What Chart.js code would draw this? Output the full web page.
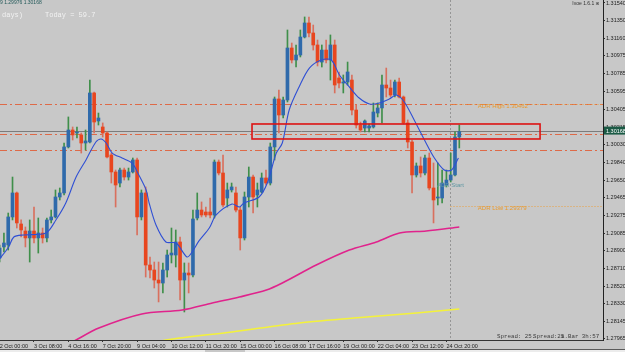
<!DOCTYPE html>
<html>
<head>
<meta charset="utf-8">
<script src="https://cdn.jsdelivr.net/npm/chart.js@4.4.0/dist/chart.umd.min.js"></script>
<style>
  html, body { margin: 0; padding: 0; background: #c8c8c8; }
  #wrap { width: 625px; height: 352px; }
</style>
</head>
<body>
<div id="wrap"><canvas id="c" width="625" height="352"></canvas></div>
<script>
// H4 candles (index 0 = 2 Oct 00:00)
const opens = [
  1.28819, 1.28937, 1.28958, 1.29257, 1.29513, 1.29182, 1.29107, 1.29033, 1.29107, 1.29033,
  1.29086, 1.29033, 1.29225, 1.29257, 1.29470, 1.29513, 1.30004, 1.30185, 1.30153, 1.30132,
  1.30046, 1.30057, 1.30580, 1.30281, 1.30217, 1.30153, 1.29918, 1.29737, 1.29619, 1.29758,
  1.29683, 1.29737, 1.29865, 1.29257, 1.29513, 1.28744, 1.28691, 1.28584, 1.28552, 1.28691,
  1.28851, 1.28851, 1.28990, 1.28584, 1.28659, 1.28638, 1.29246, 1.29331, 1.29310, 1.29310,
  1.29278, 1.29843, 1.29726, 1.29459, 1.29545, 1.29513, 1.29331, 1.29033, 1.29470, 1.29683,
  1.29491, 1.29523, 1.29673, 1.29619, 1.30004, 1.30516, 1.30345, 1.30505, 1.31060, 1.30932,
  1.30985, 1.31177, 1.31327, 1.31220, 1.31092, 1.30910, 1.31038, 1.30932, 1.31092, 1.30740,
  1.30686, 1.30697, 1.30718, 1.30398, 1.30238, 1.30206, 1.30206, 1.30217, 1.30366, 1.30420,
  1.30665, 1.30633, 1.30558, 1.30697, 1.30537, 1.30260, 1.30057, 1.29705, 1.29801, 1.29726,
  1.29886, 1.29566, 1.29459, 1.29459, 1.29598, 1.29651, 1.29705, 1.30110
];
const highs = [
  1.28958, 1.29086, 1.29299, 1.29683, 1.29523, 1.29225, 1.29150, 1.29225, 1.29363, 1.29246,
  1.29139, 1.29246, 1.29331, 1.29545, 1.29566, 1.30046, 1.30324, 1.30217, 1.30217, 1.30153,
  1.30185, 1.30718, 1.30590, 1.30366, 1.30260, 1.30164, 1.29939, 1.29758, 1.29779, 1.29779,
  1.29779, 1.29886, 1.29886, 1.29545, 1.29577, 1.28830, 1.28776, 1.28776, 1.28766, 1.28904,
  1.29139, 1.29118, 1.29043, 1.28766, 1.28766, 1.29331, 1.29513, 1.29417, 1.29363, 1.29459,
  1.29865, 1.29865, 1.29918, 1.29619, 1.29619, 1.29577, 1.29363, 1.29523, 1.29790, 1.29705,
  1.29619, 1.29726, 1.29758, 1.30046, 1.30537, 1.30612, 1.30537, 1.31252, 1.31113, 1.31092,
  1.31252, 1.31391, 1.31391, 1.31305, 1.31145, 1.31092, 1.31145, 1.31199, 1.31145, 1.30804,
  1.30772, 1.30910, 1.30772, 1.30452, 1.30270, 1.30292, 1.30249, 1.30473, 1.30473, 1.30772,
  1.30846, 1.30718, 1.30718, 1.30740, 1.30548, 1.30292, 1.30078, 1.29833, 1.29897, 1.29918,
  1.29939, 1.29833, 1.29833, 1.29758, 1.29758, 1.29939, 1.30164, 1.30238
];
const lows = [
  1.28776, 1.28883, 1.28904, 1.29225, 1.29139, 1.29043, 1.28937, 1.28776, 1.28979, 1.28872,
  1.28979, 1.28990, 1.29193, 1.29246, 1.29438, 1.29491, 1.29993, 1.30078, 1.30100, 1.29939,
  1.29971, 1.30046, 1.30153, 1.30238, 1.30110, 1.29886, 1.29619, 1.29363, 1.29577, 1.29651,
  1.29651, 1.29726, 1.29065, 1.29225, 1.28616, 1.28606, 1.28499, 1.28350, 1.28446, 1.28616,
  1.28766, 1.28723, 1.28371, 1.28243, 1.28446, 1.28616, 1.29225, 1.29257, 1.29257, 1.29246,
  1.29246, 1.29705, 1.29363, 1.29363, 1.29523, 1.29310, 1.28904, 1.29011, 1.29363, 1.29299,
  1.29363, 1.29513, 1.29598, 1.29598, 1.29865, 1.30153, 1.30313, 1.30484, 1.30900, 1.30857,
  1.30964, 1.31167, 1.31177, 1.31038, 1.30868, 1.30857, 1.30900, 1.30718, 1.30580, 1.30633,
  1.30580, 1.30665, 1.30345, 1.30206, 1.30164, 1.30164, 1.30164, 1.30206, 1.30324, 1.30260,
  1.30537, 1.30537, 1.30537, 1.30526, 1.30249, 1.29993, 1.29513, 1.29683, 1.29683, 1.29705,
  1.29545, 1.29193, 1.29385, 1.29406, 1.29577, 1.29630, 1.29694, 1.29993
];
const closes = [
  1.28926, 1.28979, 1.29257, 1.29513, 1.29193, 1.29118, 1.29033, 1.29107, 1.29033, 1.29086,
  1.29033, 1.29225, 1.29257, 1.29470, 1.29513, 1.30004, 1.30185, 1.30132, 1.30164, 1.30046,
  1.30068, 1.30580, 1.30270, 1.30313, 1.30153, 1.29897, 1.29737, 1.29598, 1.29758, 1.29683,
  1.29737, 1.29865, 1.29257, 1.29513, 1.28744, 1.28691, 1.28584, 1.28552, 1.28691, 1.28851,
  1.28872, 1.28990, 1.28584, 1.28659, 1.28638, 1.29235, 1.29331, 1.29278, 1.29278, 1.29278,
  1.29843, 1.29726, 1.29385, 1.29545, 1.29577, 1.29331, 1.29033, 1.29470, 1.29683, 1.29470,
  1.29545, 1.29673, 1.29619, 1.30004, 1.30516, 1.30345, 1.30505, 1.31060, 1.30932, 1.30985,
  1.31177, 1.31327, 1.31220, 1.31092, 1.30910, 1.31038, 1.30932, 1.31092, 1.30665, 1.30686,
  1.30697, 1.30804, 1.30398, 1.30238, 1.30185, 1.30281, 1.30228, 1.30377, 1.30420, 1.30665,
  1.30633, 1.30558, 1.30697, 1.30537, 1.30260, 1.30057, 1.29705, 1.29801, 1.29726, 1.29886,
  1.29566, 1.29438, 1.29470, 1.29619, 1.29651, 1.29705, 1.30110, 1.30168
];

// moving averages, sampled along the drawn lines (bar index, price)
const maFastIdx = [-0.2, 2.1, 3.3, 5.6, 10.8, 13.1, 15.4, 17.8, 20.1, 22.4, 23.6, 24.8, 26.2, 28.5, 30.8,
  32.4, 34.1, 34.8, 36.4, 38.7, 41.1, 43.6, 44.8, 46.4, 48.8, 50.4, 54.1, 55.8, 56.9, 60.4, 62.3, 64.4,
  65.8, 67.4, 69.7, 72.1, 74.9, 77.2, 79.1, 81.4, 83.7, 86.1, 88.4, 90.7, 92.4, 94.2, 96.5, 98.9, 101.2,
  103.5, 105.2, 106.8];
const maFastVal = [1.28798, 1.28937, 1.29043, 1.29065, 1.29086, 1.29225, 1.29406, 1.29683, 1.29865, 1.30057,
  1.30089, 1.30046, 1.29939, 1.29886, 1.29833, 1.29705, 1.29545, 1.29406, 1.29171, 1.28990, 1.28979, 1.28830,
  1.28883, 1.29001, 1.29139, 1.29278, 1.29395, 1.29363, 1.29406, 1.29470, 1.29619, 1.29939, 1.30046, 1.30398,
  1.30644, 1.30846, 1.30932, 1.30932, 1.30772, 1.30644, 1.30526, 1.30462, 1.30473, 1.30516, 1.30558, 1.30484,
  1.30292, 1.30078, 1.29886, 1.29758, 1.29758, 1.29886];
const maMidIdx = [13.8, 17.8, 23.1, 33.1, 42.5, 49.5, 55.8, 62.1, 65.8, 73.7, 81.4, 87.7, 93.1, 99.3, 107.0];
const maMidVal = [1.27838, 1.27944, 1.28072, 1.28222, 1.28264, 1.28339, 1.28403, 1.28477, 1.28552, 1.28744,
  1.28904, 1.28990, 1.29086, 1.29107, 1.29150];
const maSlowIdx = [34.8, 38.7, 54.1, 69.7, 85.4, 97.0, 107.0];
const maSlowVal = [1.27891, 1.27944, 1.28030, 1.28126, 1.28190, 1.28232, 1.28275];

// axis ticks
const xTickIdx = [0, 8, 16, 24, 32, 40, 48, 56, 64, 72, 80, 88, 96, 104];
const xTickLabels = ['2 Oct 00:00', '3 Oct 08:00', '4 Oct 16:00', '7 Oct 20:00', '9 Oct 04:00', '10 Oct 12:00',
  '11 Oct 20:00', '15 Oct 00:00', '16 Oct 08:00', '17 Oct 16:00', '19 Oct 00:00', '22 Oct 04:00',
  '23 Oct 12:00', '24 Oct 20:00'];
const yTicks = [1.27965, 1.28145, 1.28330, 1.28520, 1.28710, 1.28900, 1.29085, 1.29275, 1.29465, 1.29650,
  1.29840, 1.30030, 1.30215, 1.30405, 1.30595, 1.30785, 1.30975, 1.31160, 1.31350, 1.31540];

// levels and objects on the chart
const dashDotLevels = [1.30462, 1.30145, 1.29971];
const bidPrice = 1.30168;
const adrHigh = 1.30462;
const adrLow = 1.29379;
const dayBreakIdx = 104.8;
const zoneTop = 1.30249, zoneBottom = 1.30089, zoneFromIdx = 58.75, zoneToIdx = 125.8;
const adrStartIdx = 101.8, adrStartPrice = 1.29598;

const BULL = '#2f6aab', BEAR = '#e8461f';
const BULL_WICK = '#3f8f4a', BEAR_WICK = '#d9705e';
const isBull = i => closes[i] >= opens[i];

const overlay = {
  id: 'overlay',
  beforeDatasetsDraw(chart) {
    const { ctx, chartArea: a, scales: { x, y } } = chart;
    ctx.save();
    ctx.beginPath();
    ctx.rect(a.left, a.top, a.right - a.left, a.bottom - a.top);
    ctx.clip();
    ctx.lineWidth = 1;

    // day separator
    const vx = Math.round(x.getPixelForValue(dayBreakIdx)) + 0.5;
    ctx.strokeStyle = '#959595';
    ctx.setLineDash([2, 2]);
    ctx.beginPath(); ctx.moveTo(vx, a.top); ctx.lineTo(vx, a.bottom); ctx.stroke();

    // bid line
    ctx.setLineDash([]);
    ctx.strokeStyle = '#7c7c7c';
    const by = Math.round(y.getPixelForValue(bidPrice)) - 0.5;
    ctx.beginPath(); ctx.moveTo(a.left, by); ctx.lineTo(a.right, by); ctx.stroke();

    // dash-dot levels
    ctx.strokeStyle = '#de6a48';
    ctx.setLineDash([7, 3, 2, 3]);
    dashDotLevels.forEach(v => {
      const py = Math.round(y.getPixelForValue(v)) + 0.5;
      ctx.beginPath(); ctx.moveTo(a.left, py); ctx.lineTo(a.right, py); ctx.stroke();
    });

    // ADR dotted lines
    ctx.strokeStyle = '#eba040';
    ctx.setLineDash([1, 2]);
    [adrHigh, adrLow].forEach(v => {
      const py = Math.round(y.getPixelForValue(v)) + 0.5;
      ctx.beginPath(); ctx.moveTo(vx, py); ctx.lineTo(a.right, py); ctx.stroke();
    });
    ctx.restore();
  },
  afterDatasetsDraw(chart) {
    const { ctx, scales: { x, y } } = chart;
    ctx.save();
    // zone rectangle
    const x0 = x.getPixelForValue(zoneFromIdx), x1 = x.getPixelForValue(zoneToIdx);
    const y0 = y.getPixelForValue(zoneTop), y1 = y.getPixelForValue(zoneBottom);
    ctx.strokeStyle = '#dd1414';
    ctx.lineWidth = 1.6;
    ctx.strokeRect(x0, y0, x1 - x0, y1 - y0);

    // ADR labels
    ctx.font = '6px "Liberation Sans"';
    ctx.textBaseline = 'middle';
    ctx.fillStyle = '#e99a2e';
    const lx = x.getPixelForValue(dayBreakIdx) + 28;
    ctx.fillText('ADR High 1.30462', lx, y.getPixelForValue(adrHigh) + 2);
    ctx.fillText('ADR Low 1.29379', lx, y.getPixelForValue(adrLow) + 2.5);
    ctx.fillStyle = '#5f97a2';
    ctx.fillText('ADR Start', x.getPixelForValue(adrStartIdx), y.getPixelForValue(adrStartPrice));
    ctx.restore();
  },
  afterDraw(chart) {
    const { ctx, chartArea: a, scales: { y } } = chart;
    ctx.save();
    ctx.textBaseline = 'middle';

    // current price tag
    const ty = y.getPixelForValue(bidPrice) - 1;
    ctx.fillStyle = '#1b5a45';
    ctx.fillRect(a.right + 1, ty - 4, 625 - a.right - 1, 8);
    ctx.fillStyle = '#ffffff';
    ctx.font = '5.5px "Liberation Sans"';
    ctx.fillText('1.30168', a.right + 3, ty + 0.5);

    // header texts
    ctx.fillStyle = '#245a5a';
    ctx.font = '5px "Liberation Sans"';
    ctx.fillText('9 1.29976 1.30168', 0, 3);
    ctx.fillStyle = '#f2f2f2';
    ctx.font = '7px "Liberation Mono"';
    ctx.fillText('days)', 2, 15);
    ctx.fillText('Today = 59.7', 45, 15);
    ctx.fillStyle = '#333333';
    ctx.font = '5px "Liberation Sans"';
    ctx.textAlign = 'right';
    ctx.fillText('Ivoe 1.6.1 \u0436', 599, 4);
    ctx.textAlign = 'left';

    // status texts
    ctx.fillStyle = '#3c3c3c';
    ctx.font = '5.8px "Liberation Mono"';
    ctx.fillText('Spread: 25.', 497, 336);
    ctx.fillText('Spread:29', 533, 336);
    ctx.fillText('i.Bar 3h:57', 561, 336);

    // window strip at the bottom
    ctx.fillStyle = '#ececec';
    ctx.fillRect(0, 350, 205, 2);
    ctx.fillRect(245, 350, 380, 2);
    ctx.fillStyle = '#5a5a5a';
    ctx.fillRect(0, 349, 625, 1);
    ctx.restore();
  }
};

new Chart(document.getElementById('c'), {
  type: 'bar',
  data: {
    datasets: [
      {
        type: 'line',
        data: maFastIdx.map((v, i) => ({ x: v, y: maFastVal[i] })),
        borderColor: '#2f4fd4', borderWidth: 1.1, pointRadius: 0, tension: 0.3, order: 0
      },
      {
        type: 'line',
        data: maMidIdx.map((v, i) => ({ x: v, y: maMidVal[i] })),
        borderColor: '#e0238c', borderWidth: 1.6, pointRadius: 0, tension: 0.3, order: 0
      },
      {
        type: 'line',
        data: maSlowIdx.map((v, i) => ({ x: v, y: maSlowVal[i] })),
        borderColor: '#f4f23a', borderWidth: 1.6, pointRadius: 0, tension: 0.3, order: 0
      },
      {
        data: lows.map((l, i) => ({ x: i, y: [l, highs[i]] })),
        backgroundColor: c => isBull(c.dataIndex) ? BULL_WICK : BEAR_WICK,
        barThickness: 1, grouped: false, order: 2
      },
      {
        data: opens.map((o, i) => ({ x: i, y: [o, closes[i]] })),
        backgroundColor: c => isBull(c.dataIndex) ? BULL : BEAR,
        barThickness: 3, minBarLength: 1, grouped: false, order: 1
      }
    ]
  },
  options: {
    responsive: false,
    animation: false,
    devicePixelRatio: 1,
    layout: { padding: 0 },
    plugins: { legend: { display: false }, tooltip: { enabled: false } },
    scales: {
      x: {
        type: 'linear',
        min: 0.086, max: 140.45,
        offset: false,
        bounds: 'data',
        afterBuildTicks: s => { s.ticks = xTickIdx.map(v => ({ value: v })); },
        afterFit: s => { s.height = 12; s.paddingLeft = 0; s.paddingRight = 0; },
        grid: { drawOnChartArea: false, offset: false, tickLength: 2, color: '#333333' },
        border: { color: '#333333', width: 1 },
        ticks: {
          align: 'start', maxRotation: 0, minRotation: 0, autoSkip: false, padding: 1,
          color: '#222222', font: { family: 'Liberation Sans', size: 5.5 },
          callback: (v, i) => xTickLabels[i]
        }
      },
      y: {
        position: 'right',
        min: 1.27944, max: 1.31572,
        bounds: 'data',
        afterBuildTicks: s => { s.ticks = yTicks.map(v => ({ value: v })); },
        afterFit: s => { s.width = 22; s.paddingTop = 0; s.paddingBottom = 0; },
        grid: { drawOnChartArea: false, tickLength: 2, color: '#333333' },
        border: { color: '#222222', width: 1 },
        ticks: {
          autoSkip: false, padding: 1, color: '#222222',
          font: { family: 'Liberation Sans', size: 5.5 },
          callback: v => v.toFixed(5)
        }
      }
    }
  },
  plugins: [overlay]
});
</script>
</body>
</html>
